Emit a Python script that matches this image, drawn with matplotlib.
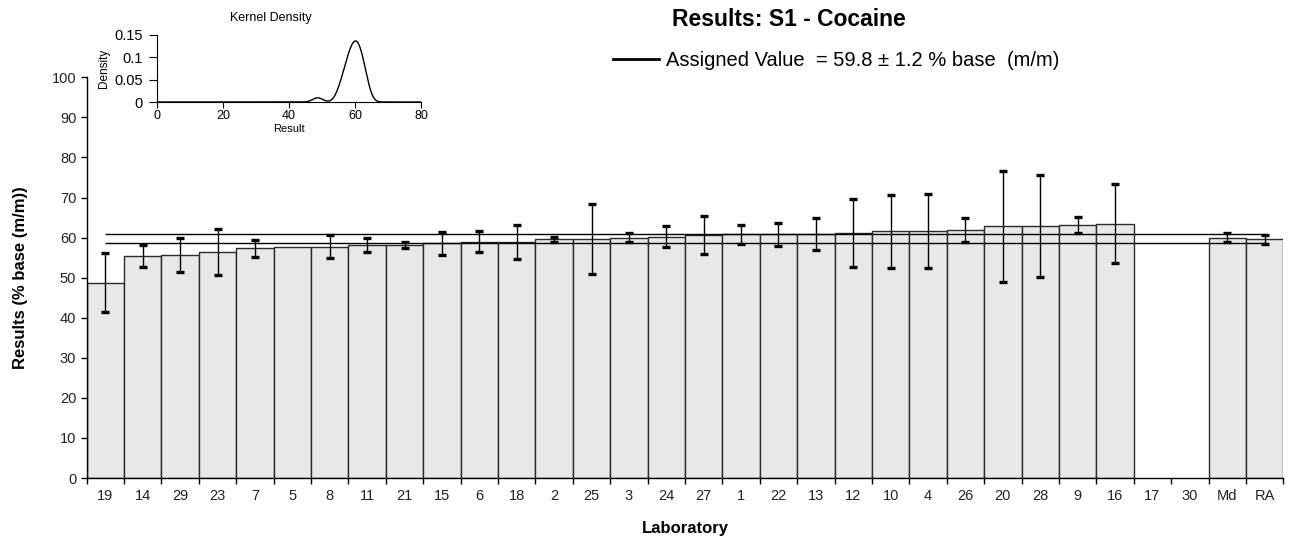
import numpy as np
import matplotlib
matplotlib.use('Agg')
import matplotlib.pyplot as plt
from matplotlib import font_manager
from matplotlib.lines import Line2D

# ---------------- data ----------------
labs = ['19', '14', '29', '23', '7', '5', '8', '11', '21', '15', '6', '18', '2', '25',
        '3', '24', '27', '1', '22', '13', '12', '10', '4', '26', '20', '28', '9', '16',
        '17', '30', 'Md', 'RA']
results = [48.7, 55.4, 55.7, 56.4, 57.3, 57.7, 57.7, 58.2, 58.2, 58.6, 59.0, 58.9, 59.6, 59.6,
           60.0, 60.2, 60.6, 60.8, 60.8, 60.8, 61.2, 61.6, 61.6, 61.9, 62.8, 62.8, 63.1, 63.5,
           np.nan, np.nan, 60.0, 59.6]
uncert = [7.35, 2.7, 4.2, 5.65, 2.1, np.nan, 2.85, 1.75, 0.8, 2.9, 2.6, 4.2, 0.6, 8.8,
          1.1, 2.6, 4.8, 2.35, 2.9, 4.0, 8.45, 9.1, 9.3, 3.05, 13.8, 12.7, 1.95, 9.8,
          np.nan, np.nan, 1.1, 1.1]
assigned = 59.8
assigned_u = 1.2
kde_bandwidth = 1.5

# ---------------- fonts ----------------
names = {f.name for f in font_manager.fontManager.ttflist}
base = 'Liberation Sans' if 'Liberation Sans' in names else 'DejaVu Sans'
plt.rcParams['font.family'] = [base, 'DejaVu Sans']

W, H = 1290, 542
fig = plt.figure(figsize=(W / 100, H / 100), dpi=100)

x0, x1, ytop, ybot = 86.7, 1283.3, 77.3, 478
ax = fig.add_axes([x0 / W, 1 - ybot / H, (x1 - x0) / W, (ybot - ytop) / H])

res = np.array(results, dtype=float)
unc = np.array(uncert, dtype=float)
x = np.arange(len(labs))

ax.bar(x, res, width=1.0, color='#e8e8e8', edgecolor='#2b2b2b', linewidth=1.0, zorder=2)
m = ~np.isnan(res) & ~np.isnan(unc)
ax.errorbar(x[m], res[m], yerr=unc[m], fmt='none', ecolor='black', elinewidth=1.0,
            capsize=2.6, capthick=2.4, zorder=4)

ax.hlines([assigned - assigned_u, assigned + assigned_u], 0, len(labs) - 1,
          colors='black', linewidth=1.0, zorder=3)

ax.set_xlim(-0.5, len(labs) - 0.5)
ax.set_ylim(0, 100)
ax.set_yticks(np.arange(0, 101, 10))
ax.set_xticks(x)
ax.set_xticklabels(labs, fontsize=10.5, color='#222222')
ax.set_xticks(np.arange(len(labs) + 1) - 0.5, minor=True)
ax.tick_params(axis='x', which='major', length=0, pad=8)
ax.tick_params(axis='x', which='minor', length=4.5, width=1, direction='out')
ax.tick_params(axis='y', length=4.5, width=1, direction='out', pad=3,
               labelsize=10.5, labelcolor='#222222')
ax.spines['top'].set_visible(False)
ax.spines['right'].set_visible(False)
ax.spines['left'].set_linewidth(1.0)
ax.spines['bottom'].set_linewidth(1.0)

ax.set_xlabel('Laboratory', fontsize=12, fontweight='bold', labelpad=13)
ax.set_ylabel('Results (% base (m/m))', fontsize=12, fontweight='bold', labelpad=17)

# title and legend
fig.text(788.5 / W, 1 - 19.5 / H, 'Results: S1 - Cocaine', ha='center', va='center',
         fontsize=16.5, fontweight='bold')
proxy = Line2D([], [], color='black', linewidth=2.0)
fig.legend([proxy], ['Assigned Value  = %.1f \u00b1 %.1f %% base  (m/m)' % (assigned, assigned_u)],
           loc='center left', bbox_to_anchor=(612.7 / W, 1 - 60.5 / H), frameon=False,
           fontsize=14.5, handlelength=2.3, handletextpad=0.33, borderpad=0, borderaxespad=0)

# ---------------- inset: kernel density ----------------
ix0, ix1, iy0, iy1 = 157, 421, 35, 102
ax2 = fig.add_axes([ix0 / W, 1 - iy1 / H, (ix1 - ix0) / W, (iy1 - iy0) / H])
vals = res[:len(labs) - 2]
vals = vals[~np.isnan(vals)]
grid = np.linspace(0, 80, 801)
dens = np.exp(-0.5 * ((grid[:, None] - vals[None, :]) / kde_bandwidth) ** 2).sum(axis=1)
dens /= (len(vals) * kde_bandwidth * np.sqrt(2 * np.pi))
ax2.plot(grid, dens, color='black', linewidth=1.0)
ax2.set_xlim(0, 80)
ax2.set_ylim(0, 0.15)
ax2.set_xticks([0, 20, 40, 60, 80])
ax2.set_yticks([0, 0.05, 0.1, 0.15])
ax2.set_yticklabels(['0', '0.05', '0.1', '0.15'])
ax2.tick_params(axis='x', labelsize=9, length=4, direction='out', pad=2)
ax2.tick_params(axis='y', labelsize=10.5, length=6, direction='out', pad=4)
ax2.spines['top'].set_visible(False)
ax2.spines['right'].set_visible(False)
ax2.set_title('Kernel Density', fontsize=9, x=(271 - ix0) / (ix1 - ix0), pad=10)
ax2.set_xlabel('Result', fontsize=8, labelpad=1)
ax2.set_ylabel('Density', fontsize=8.5, labelpad=3)
ax2.patch.set_alpha(0)

fig.savefig('out.png', dpi=100)
